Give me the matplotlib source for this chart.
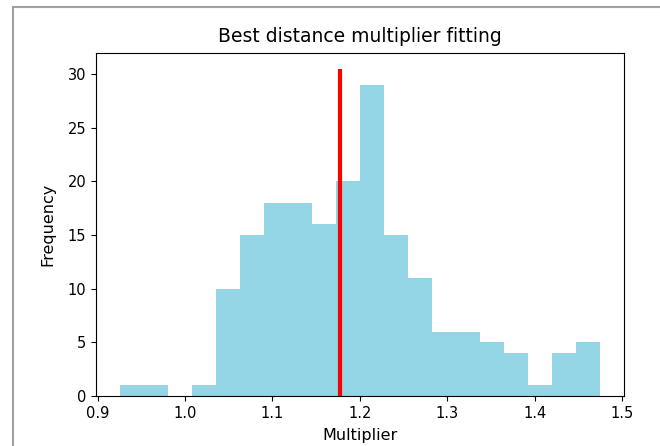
import numpy as np
import matplotlib.pyplot as plt
from matplotlib.lines import Line2D

# histogram: 20 bins from ~0.9257 to ~1.4747
bin_start = 0.9257
bin_end = 1.4747
counts = [1, 1, 0, 1, 10, 15, 18, 18, 16, 20, 29, 15, 11, 6, 6, 5, 4, 1, 4, 5]
best_multiplier = 1.177

edges = np.linspace(bin_start, bin_end, len(counts) + 1)
centers = (edges[:-1] + edges[1:]) / 2

fig = plt.figure(figsize=(6.6, 4.46), dpi=100)
ax = fig.add_axes([96 / 660, 50 / 446, 528 / 660, 343 / 446])

ax.hist(centers, bins=edges, weights=counts, color='#94d5e5')
ax.vlines(best_multiplier, 0, max(counts) * 1.05, color='red', linewidth=3)

ax.set_title('Best distance multiplier fitting', fontsize=13.5, pad=8)
ax.set_xlabel('Multiplier', fontsize=11.5, labelpad=5)
ax.set_ylabel('Frequency', fontsize=11.5, labelpad=9)
ax.tick_params(labelsize=10.5)

# the grey frame of the screenshot (top and left edges)
fig.add_artist(Line2D([13 / 660, 13 / 660], [0, 1 - 7 / 446], transform=fig.transFigure,
                      color='#a0a0a0', linewidth=1.5))
fig.add_artist(Line2D([13 / 660, 1], [1 - 7 / 446, 1 - 7 / 446], transform=fig.transFigure,
                      color='#a0a0a0', linewidth=1.5))

fig.savefig('out.png', dpi=100)
